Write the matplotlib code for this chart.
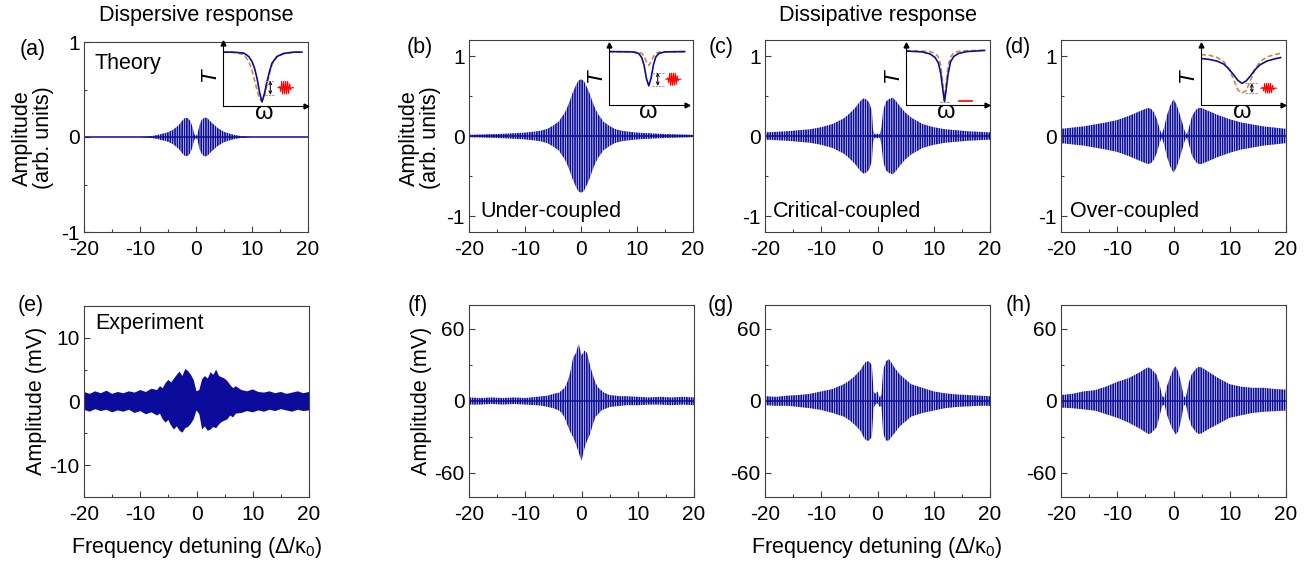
import numpy as np
import matplotlib
matplotlib.use("Agg")
import matplotlib.pyplot as plt

# ---- data ----
# theory panels: envelope of the fast oscillation (arb. units)
a_x = [-20, -10, -9, -8, -7, -6, -5, -4, -3, -2.5, -2, -1.5, -1, -0.6, -0.3, 0,
       0.3, 0.6, 1, 1.5, 2, 2.5, 3, 4, 5, 6, 7, 8, 9, 10, 20]
a_env = [0, 0, 0.005, 0.01, 0.02, 0.035, 0.05, 0.08, 0.13, 0.17, 0.2, 0.2, 0.17, 0.1, 0.03, 0.01,
         0.04, 0.12, 0.18, 0.205, 0.2, 0.17, 0.14, 0.09, 0.055, 0.035, 0.02, 0.01, 0.005, 0, 0]

b_x = [-20, -15, -12, -10, -8, -7, -6, -5, -4, -3, -2.5, -2, -1.5, -1, -0.5, 0,
       0.5, 1, 1.5, 2, 2.5, 3, 4, 5, 6, 7, 8, 10, 12, 15, 20]
b_env = [0.015, 0.025, 0.035, 0.043, 0.058, 0.07, 0.09, 0.13, 0.18, 0.28, 0.35, 0.44, 0.54, 0.62, 0.69, 0.71,
         0.69, 0.62, 0.54, 0.44, 0.35, 0.28, 0.18, 0.13, 0.09, 0.07, 0.058, 0.043, 0.035, 0.025, 0.015]

c_x = [-20, -16, -12, -10, -8, -6, -5, -4, -3, -2.5, -2, -1.5, -1, -0.8, -0.5, 0,
       0.4, 0.7, 1, 1.5, 2, 2.7, 3.5, 4, 5, 6, 8, 10, 12, 16, 20]
c_env = [0.045, 0.06, 0.085, 0.11, 0.15, 0.22, 0.28, 0.35, 0.44, 0.47, 0.46, 0.42, 0.32, 0.08, 0.02, 0.03,
         0.02, 0.1, 0.32, 0.43, 0.46, 0.48, 0.42, 0.37, 0.29, 0.23, 0.15, 0.11, 0.085, 0.06, 0.045]

d_x = [-20, -16, -12, -10, -8, -6, -5, -4.5, -4, -3.5, -3, -2.5, -2.1, -1.7, -1.2, -0.6, 0,
       0.5, 1, 1.5, 2, 2.4, 2.8, 3.3, 4, 4.5, 5, 6, 8, 10, 12, 16, 20]
d_env = [0.09, 0.12, 0.17, 0.2, 0.25, 0.31, 0.34, 0.35, 0.34, 0.3, 0.22, 0.1, 0.02, 0.1, 0.25, 0.38, 0.46,
         0.4, 0.3, 0.18, 0.06, 0.02, 0.12, 0.25, 0.33, 0.35, 0.35, 0.32, 0.26, 0.21, 0.17, 0.12, 0.09]

# experiment panels: upper / lower extent of the measured trace (mV)
e_x = [-20, -19, -18, -17, -16, -15, -14, -13, -12, -11, -10, -9, -8,
       -7, -6.5, -6, -5.5, -5, -4.5, -4, -3.5, -3, -2.5, -2, -1.5, -1, -0.5, 0,
       0.5, 1, 1.5, 2, 2.5, 3, 3.5, 4, 4.5, 5, 5.5, 6, 6.5, 7,
       8, 9, 10, 11, 12, 13, 14, 15, 16, 17, 18, 19, 20]
e_up = [1.5, 1.2, 1.6, 1.3, 1.7, 1.2, 1.5, 1.3, 1.6, 1.4, 1.8, 1.5, 2.0,
        1.8, 2.4, 2.1, 2.9, 3.4, 3.0, 3.6, 4.2, 4.7, 4.0, 5.1, 4.8, 4.2, 3.4, 1.6,
        1.8, 3.5, 4.0, 3.6, 4.6, 4.2, 5.0, 4.0, 3.8, 3.6, 3.2, 2.6, 2.1, 2.4,
        1.8, 1.6, 1.9, 1.5, 1.4, 1.6, 1.3, 1.5, 1.2, 1.4, 1.6, 1.3, 1.5]
e_lo = [-1.3, -1.6, -1.2, -1.5, -1.3, -1.7, -1.4, -1.6, -1.3, -1.8, -1.5, -2.0, -1.7,
        -2.2, -1.9, -2.8, -3.3, -2.9, -3.8, -4.4, -3.9, -4.6, -4.9, -4.2, -4.0, -3.5, -2.8, -1.4,
        -2.0, -4.4, -3.9, -4.6, -4.4, -4.0, -4.2, -3.6, -3.2, -3.0, -2.8, -2.2, -2.5, -1.9,
        -1.8, -1.5, -1.7, -1.4, -1.6, -1.3, -1.5, -1.2, -1.4, -1.6, -1.3, -1.5, -1.4]

f_x = [-20, -18, -16, -14, -12, -10, -8, -7, -6, -5, -4, -3.5, -3, -2.5, -2, -1.5, -1, -0.5, 0,
       0.5, 1, 1.5, 2, 2.5, 3, 3.5, 4, 5, 6, 7, 8, 10, 12, 14, 16, 18, 20]
f_up = [3, 2.5, 3, 2.5, 3, 2.5, 3.5, 4, 4.5, 6, 7, 9, 11, 16, 24, 36, 40, 48, 38,
        42, 40, 30, 22, 15, 11, 9, 7, 5, 4.5, 4, 4, 3.5, 3, 3.5, 3, 3.5, 3]
f_lo = [-3, -3, -2.5, -3, -2.5, -3, -3.5, -4, -5, -6, -8, -10, -14, -20, -26, -30, -36, -43, -50,
        -40, -33, -28, -20, -13, -11, -8, -7, -5, -4.5, -4, -3.5, -3.5, -3, -3, -3.5, -3, -3.5]

g_x = [-20, -18, -16, -14, -12, -10, -8, -6, -5, -4, -3, -2.5, -2, -1.5, -1, -0.7, -0.4, 0,
       0.4, 0.7, 1, 1.5, 2, 2.5, 3, 4, 5, 6, 8, 10, 12, 14, 16, 18, 20]
g_up = [4, 3.5, 4.5, 5, 6, 8, 10, 14, 17, 21, 26, 30, 33, 33, 30, 8, 6, 8,
        3, 5, 26, 33, 35, 32, 28, 22, 18, 14, 11, 8, 6.5, 5.5, 5, 4.5, 4]
g_lo = [-3.5, -4, -4, -5, -6, -7.5, -10, -13, -16, -20, -25, -30, -33, -33, -30, -6, -3, -2,
        -5, -4, -27, -33, -33, -30, -27, -21, -17, -13, -10, -8, -6, -5, -4.5, -4, -4]

h_x = [-20, -18, -16, -14, -12, -10, -8, -6, -5, -4.5, -4, -3, -2.5, -2, -1.6, -1.2, -0.6, 0,
       0.4, 0.9, 1.4, 1.8, 2.2, 2.7, 3.2, 4, 4.5, 5, 6, 8, 10, 12, 14, 16, 18, 20]
h_up = [5, 6, 8, 9, 12, 16, 19, 24, 27, 28, 27, 22, 14, 4, 3, 12, 20, 27,
        29, 24, 14, 4, 3, 15, 22, 27, 28.5, 28, 25, 19, 14, 12, 11, 11, 10, 9.5]
h_lo = [-5.5, -6, -7, -8, -11, -14, -18, -23, -26, -27.5, -27, -22, -13, -4, -3, -11, -19, -25,
        -28, -25, -15, -4, -3, -14, -21, -26, -27.5, -27, -24, -19, -14, -12, -10, -9, -8.5, -8]

# insets: transmission T vs omega (normalised axes units)
ia_w = [0.0, 0.12, 0.25, 0.31, 0.35, 0.38, 0.41, 0.44, 0.47, 0.5, 0.53, 0.56, 0.59, 0.65, 0.73, 0.85, 0.95]
ia_blue = [0.855, 0.855, 0.84, 0.786, 0.706, 0.6, 0.44, 0.22, 0.064, 0.2, 0.385, 0.545, 0.68, 0.786, 0.834, 0.855, 0.855]
ia_orange = [0.855, 0.85, 0.82, 0.71, 0.56, 0.41, 0.25, 0.11, 0.08, 0.17, 0.34, 0.52, 0.66, 0.78, 0.83, 0.852, 0.855]

ib_w = [0.0, 0.3, 0.38, 0.42, 0.45, 0.48, 0.51, 0.54, 0.57, 0.6, 0.64, 0.72, 0.97]
ib_blue = [0.89, 0.885, 0.86, 0.79, 0.66, 0.44, 0.32, 0.45, 0.67, 0.8, 0.86, 0.885, 0.89]
ib_orange = [0.89, 0.888, 0.88, 0.86, 0.81, 0.72, 0.66, 0.72, 0.81, 0.86, 0.88, 0.888, 0.89]

ic_w = [0.0, 0.2, 0.3, 0.36, 0.4, 0.43, 0.455, 0.475, 0.495, 0.52, 0.55, 0.59, 0.65, 0.75, 0.97]
ic_blue = [0.9, 0.885, 0.85, 0.79, 0.7, 0.52, 0.25, 0.06, 0.25, 0.52, 0.72, 0.81, 0.86, 0.89, 0.91]
ic_orange = [0.9, 0.9, 0.89, 0.86, 0.8, 0.65, 0.35, 0.07, 0.35, 0.65, 0.8, 0.87, 0.895, 0.905, 0.91]

id_w = [0.0, 0.1, 0.2, 0.28, 0.34, 0.4, 0.45, 0.5, 0.55, 0.6, 0.66, 0.72, 0.8, 0.9, 0.97]
id_blue = [0.775, 0.76, 0.73, 0.68, 0.6, 0.5, 0.41, 0.36, 0.4, 0.48, 0.59, 0.67, 0.73, 0.77, 0.79]
id_orange = [0.84, 0.83, 0.79, 0.72, 0.6, 0.42, 0.25, 0.2, 0.24, 0.4, 0.6, 0.72, 0.8, 0.84, 0.86]

# small red wave packet drawn next to the dip (relative shape)
pkt = [0, 0, 0.2, -0.6, 1, -1, 1, -1, 1, -1, 1, -0.9, 0.6, -0.3, 0, 0, 0]

blue = '#0c0c9c'
orange = '#d08a3c'
frame = '#404040'

plt.rcParams['font.family'] = ['Liberation Sans', 'DejaVu Sans']
plt.rcParams['mathtext.fontset'] = 'custom'
plt.rcParams['mathtext.rm'] = 'Liberation Sans'
plt.rcParams['mathtext.default'] = 'regular'
plt.rcParams['axes.unicode_minus'] = False
plt.rcParams['hatch.linewidth'] = 1.25
plt.rcParams['hatch.color'] = blue

W, H = 1315, 561
fig = plt.figure(figsize=(W / 100, H / 100), dpi=100)


def box(l, t, r, b):
    return [l / W, 1 - b / H, (r - l) / W, (b - t) / H]


def ftext(x, y, s, **kw):
    fig.text(x / W, 1 - y / H, s, **kw)


def panel(rect, x, up, lo, ylim, yticks, yminor, hatch='|' * 7):
    ax = fig.add_axes(rect)
    ax.fill_between(x, lo, up, facecolor='none', edgecolor=blue, hatch=hatch, linewidth=0)
    ax.axhline(0, color=blue, lw=1.1)
    ax.set_xlim(-20, 20)
    ax.set_ylim(*ylim)
    ax.set_xticks([-20, -10, 0, 10, 20])
    ax.set_xticks([-15, -5, 5, 15], minor=True)
    ax.set_yticks(yticks)
    ax.set_yticks(yminor, minor=True)
    ax.tick_params(which='both', direction='in', labelsize=15, color=frame, width=0.8)
    ax.tick_params(which='major', length=4, pad=3)
    ax.tick_params(axis='x', which='major', pad=6)
    ax.tick_params(which='minor', length=2.5)
    for s in ax.spines.values():
        s.set_color(frame)
        s.set_linewidth(0.8)
    return ax


def inset(rect, w, tb, to, gaps=None, pkt_y=None, pkt_amp=0.1, flat=None):
    ia = fig.add_axes(rect)
    ia.patch.set_alpha(0)
    ia.plot(w, to, color=orange, lw=1.2, ls=(0, (3, 1.6)))
    ia.plot(w, tb, color=blue, lw=1.2)
    ia.set_xlim(0, 1)
    ia.set_ylim(0, 1)
    ia.set_xticks([])
    ia.set_yticks([])
    ia.spines[['top', 'right']].set_visible(False)
    for s in ['left', 'bottom']:
        ia.spines[s].set_linewidth(0.8)
    ia.plot(1, 0, '>k', ms=3.5, transform=ia.transAxes, clip_on=False)
    ia.plot(0, 1, '^k', ms=3.5, transform=ia.transAxes, clip_on=False)
    ia.set_ylabel('T', fontstyle='italic', fontsize=16, labelpad=2)
    ia.set_xlabel('ω', fontsize=17, labelpad=-3)
    x1 = 0.6
    if gaps is not None:
        lo_g, hi_g, x0, x1 = gaps
        ia.plot([x0, x1], [hi_g, hi_g], color='#9a9a9a', lw=0.8, ls=(0, (2, 1)))
        ia.plot([x0, x1], [lo_g, lo_g], color='#9a9a9a', lw=0.8, ls=(0, (2, 1)))
        ia.annotate('', xy=((x0 + x1) / 2, hi_g), xytext=((x0 + x1) / 2, lo_g),
                    arrowprops=dict(arrowstyle='<->', lw=0.7, color='k',
                                    mutation_scale=5, shrinkA=0, shrinkB=0))
    if pkt_y is not None:
        px = np.linspace(x1 + 0.03, x1 + 0.22, len(pkt))
        ia.plot(px, pkt_y + pkt_amp * np.array(pkt), color='red', lw=0.8)
    if flat is not None:
        ia.plot(flat[1:], [flat[0], flat[0]], color='red', lw=1.2)
    return ia


# top row
ax_a = panel(box(84, 42, 308, 232), a_x, a_env, [-v for v in a_env], (-1, 1), [-1, 0, 1], [-0.5, 0.5])
ax_b = panel(box(469, 40, 693, 232), b_x, b_env, [-v for v in b_env], (-1.2, 1.2), [-1, 0, 1], [-0.5, 0.5])
ax_c = panel(box(765, 40, 990, 232), c_x, c_env, [-v for v in c_env], (-1.2, 1.2), [-1, 0, 1], [-0.5, 0.5])
ax_d = panel(box(1061, 40, 1286, 232), d_x, d_env, [-v for v in d_env], (-1.2, 1.2), [-1, 0, 1], [-0.5, 0.5])

# bottom row
ax_e = panel(box(84, 306, 309, 497), e_x, e_up, e_lo, (-15, 15), [-10, 0, 10], [-5, 5], hatch='|' * 12)
ax_f = panel(box(469, 305, 694, 497), f_x, f_up, f_lo, (-80, 80), [-60, 0, 60], [-30, 30])
ax_g = panel(box(765, 305, 990, 497), g_x, g_up, g_lo, (-80, 80), [-60, 0, 60], [-30, 30])
ax_h = panel(box(1061, 305, 1286, 497), h_x, h_up, h_lo, (-80, 80), [-60, 0, 60], [-30, 30])

# insets
inset(box(223, 43, 306, 106), ia_w, ia_blue, ia_orange, gaps=(0.18, 0.40, 0.51, 0.63), pkt_y=0.29)
inset(box(609, 45, 687, 105), ib_w, ib_blue, ib_orange, gaps=(0.32, 0.54, 0.55, 0.70), pkt_y=0.43)
inset(box(906, 45, 987, 105), ic_w, ic_blue, ic_orange, gaps=(0.05, 0.05, 0.42, 0.53), flat=(0.06, 0.65, 0.81))
inset(box(1201, 45, 1283, 105), id_w, id_blue, id_orange, gaps=(0.2, 0.36, 0.54, 0.70), pkt_y=0.28, pkt_amp=0.08)

fs = 15.5
ftext(196, 15, 'Dispersive response', fontsize=fs, ha='center', va='center')
ftext(878, 15, 'Dissipative response', fontsize=fs, ha='center', va='center')

for lab, x, y in [('(a)', 33, 50), ('(b)', 420, 47), ('(c)', 721, 47), ('(d)', 1018, 47),
                  ('(e)', 31, 305), ('(f)', 418, 305), ('(g)', 721, 305), ('(h)', 1019, 305)]:
    ftext(x, y, lab, fontsize=fs, ha='center', va='center')

ftext(95, 63, 'Theory', fontsize=fs, ha='left', va='center')
ftext(95, 323, 'Experiment', fontsize=fs, ha='left', va='center')
ftext(480, 212, 'Under-coupled', fontsize=fs, ha='left', va='center')
ftext(773, 212, 'Critical-coupled', fontsize=fs, ha='left', va='center')
ftext(1070, 212, 'Over-coupled', fontsize=fs, ha='left', va='center')

ftext(33, 138, 'Amplitude\n(arb. units)', fontsize=fs, rotation=90, ha='center', va='center',
      multialignment='center', linespacing=1.0)
ftext(420, 138, 'Amplitude\n(arb. units)', fontsize=fs, rotation=90, ha='center', va='center',
      multialignment='center', linespacing=1.0)
ftext(37, 401, 'Amplitude (mV)', fontsize=fs, rotation=90, ha='center', va='center')
ftext(422, 401, 'Amplitude (mV)', fontsize=fs, rotation=90, ha='center', va='center')

ftext(197, 548, 'Frequency detuning (Δ/κ$_0$)', fontsize=fs, ha='center', va='center')
ftext(877, 548, 'Frequency detuning (Δ/κ$_0$)', fontsize=fs, ha='center', va='center')

fig.savefig('out.png', dpi=100)
